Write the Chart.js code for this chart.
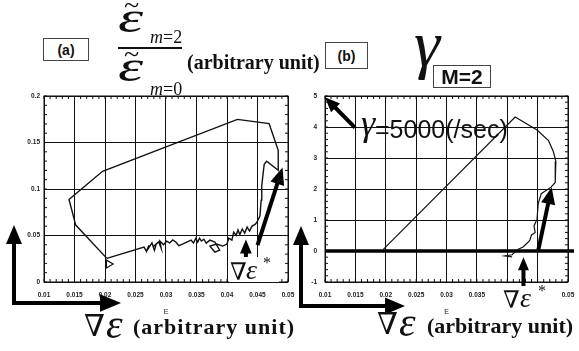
<!DOCTYPE html>
<html>
<head>
<meta charset="utf-8">
<script src="https://cdn.jsdelivr.net/npm/chart.js@4.4.1/dist/chart.umd.min.js"></script>
<style>
body{margin:0;background:#fff;width:579px;height:351px;overflow:hidden;position:relative;color:#111}
canvas{position:absolute;left:0;top:0}
.t{position:absolute;white-space:nowrap;line-height:1}
.sr{font-family:"Liberation Serif","Times New Roman",serif}
.ss{font-family:"Liberation Sans",Arial,sans-serif}
.dv{font-family:"DejaVu Serif",serif}
.i{font-style:italic}
.b{font-weight:bold}
.wide{transform:scaleX(1.45);transform-origin:left top}
.box{position:absolute;border:1px solid #444;display:flex;align-items:center;justify-content:center;font-weight:bold;line-height:1;background:#fff}
.bar{position:absolute;height:2px;background:#111}
.wb{position:absolute;background:#fff}
</style>
</head>
<body>
<canvas id="chart1" width="579" height="351"></canvas>
<canvas id="chart2" width="579" height="351"></canvas>

<!-- panel (a) titles -->
<div class="box ss" style="left:43px;top:38px;width:44px;height:21px;font-size:14px">(a)</div>
<div class="t sr" style="left:124px;top:-9px;font-size:28px">~</div>
<div class="t sr i wide" style="left:118px;top:-4px;font-size:44px">ε</div>
<div class="t sr" style="left:150px;top:28px;font-size:18px"><i>m</i>=2</div>
<div class="bar" style="left:118px;top:47px;width:64px"></div>
<div class="t sr" style="left:124px;top:40px;font-size:28px">~</div>
<div class="t sr i wide" style="left:118px;top:45px;font-size:44px">ε</div>
<div class="t sr" style="left:150px;top:80px;font-size:18px"><i>m</i>=0</div>
<div class="t sr b" style="left:187px;top:52px;font-size:20px">(arbitrary unit)</div>

<div class="wb" style="left:229px;top:257px;width:50px;height:25px"></div>
<div class="t dv" style="left:230px;top:260px;font-size:24px">∇</div>
<div class="t sr i" style="left:246px;top:256px;font-size:28px">ε</div>
<div class="t sr" style="left:263px;top:255px;font-size:16px">*</div>

<div class="t dv" style="left:84px;top:311px;font-size:30px">∇</div>
<div class="t sr i" style="left:106px;top:303px;font-size:42px">ε</div>
<div class="t sr b" style="left:133px;top:316px;font-size:22px;letter-spacing:1px">(arbitrary unit)</div>

<!-- panel (b) titles -->
<div class="box ss" style="left:325px;top:42px;width:41px;height:25px;font-size:14px">(b)</div>
<div class="t sr i" style="left:414px;top:11px;font-size:66px">γ</div>
<div class="box ss" style="left:433px;top:65px;width:56px;height:21px;font-size:21px">M=2</div>
<div class="t sr i" style="left:361px;top:105px;font-size:36px">γ</div>
<div class="t ss" style="left:375px;top:117px;font-size:25px">=5000(/sec)</div>

<div class="wb" style="left:500px;top:286px;width:48px;height:28px"></div>
<div class="t dv" style="left:503px;top:288px;font-size:24px">∇</div>
<div class="t sr i" style="left:520px;top:284px;font-size:28px">ε</div>
<div class="t sr" style="left:538px;top:283px;font-size:16px">*</div>

<div class="t dv" style="left:377px;top:309px;font-size:30px">∇</div>
<div class="t sr i" style="left:399px;top:301px;font-size:42px">ε</div>
<div class="t sr b" style="left:427px;top:315px;font-size:22px">(arbitrary unit)</div>

<script>
const gradTicks = [0.01, 0.015, 0.02, 0.025, 0.03, 0.035, 0.04, 0.045, 0.05]
const ratioTicks = [0, 0.05, 0.1, 0.15, 0.2]
const gammaTicks = [-1, 0, 1, 2, 3, 4, 5]

// (a) m=2 / m=0 amplitude ratio vs grad epsilon
const aGradE = [0.0203, 0.0264, 0.0268, 0.0272, 0.0270, 0.0277, 0.0281, 0.0284, 0.0279, 0.0288, 0.0292, 0.0290,
    0.0296, 0.0301, 0.0306, 0.0311, 0.0316, 0.0321, 0.0328, 0.0334, 0.0341, 0.0345, 0.0349, 0.0352, 0.0355,
    0.0358, 0.0362, 0.0366, 0.0372, 0.0380, 0.0388, 0.0380, 0.0372, 0.0383, 0.0393, 0.0400, 0.0403, 0.0408,
    0.0411, 0.0415, 0.0418, 0.0421, 0.0425, 0.0429, 0.0433, 0.0437, 0.0441, 0.0446, 0.0449, 0.0454, 0.0456,
    0.0457, 0.0461, 0.0465, 0.0484, 0.0484, 0.0469, 0.0417, 0.0196, 0.0141, 0.0152, 0.0203]
const aRatio = [0.0254, 0.0376, 0.0330, 0.0395, 0.0350, 0.0420, 0.0340, 0.0410, 0.0380, 0.0430, 0.0365, 0.0440,
    0.0400, 0.0440, 0.0420, 0.0452, 0.0430, 0.0390, 0.0410, 0.0430, 0.0451, 0.0420, 0.0470, 0.0430, 0.0472,
    0.0440, 0.0460, 0.0418, 0.0450, 0.0430, 0.0343, 0.0322, 0.0386, 0.0408, 0.0386, 0.0408, 0.0472, 0.0451,
    0.0537, 0.0500, 0.0560, 0.0510, 0.0570, 0.0526, 0.0590, 0.0547, 0.0601, 0.0620, 0.0644, 0.0708, 0.0880,
    0.1041, 0.1266, 0.1298, 0.1202, 0.1416, 0.1703, 0.1749, 0.1191, 0.0887, 0.0612, 0.0254]
const aStartE = [0.0206]
const aStartR = [0.0193]

// (b) gamma for M=2 vs grad epsilon
const bGradE = [0.0196, 0.0413, 0.0449, 0.0468, 0.0476, 0.0480, 0.0479, 0.0472, 0.0456, 0.0451, 0.0449,
    0.0444, 0.0446, 0.0440, 0.0437, 0.0432, 0.0426, 0.0418, 0.0408, 0.0396, 0.0408]
const bGamma = [0.05, 4.32, 3.90, 3.56, 3.20, 2.89, 2.21, 2.06, 1.85, 1.54, 1.02,
    0.81, 0.60, 0.52, 0.34, 0.24, 0.13, 0.06, -0.12, -0.16, -0.19]

const tickFont = {family: '"Liberation Sans", Arial, sans-serif', size: 6.5, weight: 'bold'}

function arrow(ctx, x1, y1, x2, y2, w, head){
    const a = Math.atan2(y2 - y1, x2 - x1)
    const c = Math.cos(a), s = Math.sin(a)
    ctx.save()
    ctx.strokeStyle = '#000'
    ctx.fillStyle = '#000'
    ctx.lineWidth = w
    ctx.beginPath()
    ctx.moveTo(x1, y1)
    ctx.lineTo(x2 - c * head * 0.8, y2 - s * head * 0.8)
    ctx.stroke()
    ctx.beginPath()
    ctx.moveTo(x2, y2)
    ctx.lineTo(x2 - head * c + head * 0.42 * s, y2 - head * s - head * 0.42 * c)
    ctx.lineTo(x2 - head * c - head * 0.42 * s, y2 - head * s + head * 0.42 * c)
    ctx.closePath()
    ctx.fill()
    ctx.restore()
}

// border + small dotted minor ticks along all four sides
function frame(chart, xStep, yStep){
    const {ctx, chartArea: ca, scales: {x, y}} = chart
    ctx.save()
    ctx.strokeStyle = '#111'
    ctx.lineWidth = 1
    ctx.strokeRect(ca.left, ca.top, ca.right - ca.left, ca.bottom - ca.top)
    ctx.beginPath()
    for (let v = x.min; v <= x.max + 1e-9; v += xStep){
        const px = x.getPixelForValue(v)
        ctx.moveTo(px, ca.bottom); ctx.lineTo(px, ca.bottom - 3)
        ctx.moveTo(px, ca.top); ctx.lineTo(px, ca.top + 3)
    }
    for (let v = y.min; v <= y.max + 1e-9; v += yStep){
        const py = y.getPixelForValue(v)
        ctx.moveTo(ca.left, py); ctx.lineTo(ca.left + 3, py)
        ctx.moveTo(ca.right, py); ctx.lineTo(ca.right - 3, py)
    }
    ctx.stroke()
    ctx.restore()
}

function scales(yTicks, yMin, yMax, yPad){
    return {
        x: {
            type: 'linear', min: 0.01, max: 0.05,
            afterBuildTicks: s => { s.ticks = gradTicks.map(v => ({value: v})) },
            afterFit: s => { s.height = 36; s.paddingLeft = 0; s.paddingRight = 0 },
            ticks: {font: tickFont, color: '#222', padding: 9, callback: v => String(v), maxRotation: 0, autoSkip: false},
            grid: {color: '#111', lineWidth: 1, drawTicks: false},
            border: {display: false},
            title: {display: true, text: 'E', font: {family: '"Liberation Sans", Arial, sans-serif', size: 7}, color: '#222', padding: {top: 4, bottom: 2}}
        },
        y: {
            type: 'linear', min: yMin, max: yMax,
            afterBuildTicks: s => { s.ticks = yTicks.map(v => ({value: v})) },
            afterFit: s => { s.width = 44; s.paddingTop = 0; s.paddingBottom = 0 },
            ticks: {font: tickFont, color: '#222', padding: yPad, callback: v => String(v), autoSkip: false},
            grid: {color: '#111', lineWidth: 1, drawTicks: false},
            border: {display: false}
        }
    }
}

function grafico1(){
    const data = {
        datasets: [{
            data: aGradE.map((v, i) => ({x: v, y: aRatio[i]})),
            showLine: true, borderColor: '#111', borderWidth: 1.4, pointRadius: 0, tension: 0
        }, {
            data: aStartE.map((v, i) => ({x: v, y: aStartR[i]})),
            pointStyle: 'triangle', rotation: 90, pointRadius: 4.5, borderWidth: 1.2,
            borderColor: '#111', backgroundColor: '#fff'
        }]
    }
    const deco = {
        id: 'decoA',
        afterDraw(chart){
            const {ctx, scales: {x, y}} = chart
            frame(chart, 0.001, 0.01)
            arrow(ctx, x.getPixelForValue(0.045), y.getPixelForValue(0.0397), x.getPixelForValue(0.0491), y.getPixelForValue(0.123), 4, 17)
            arrow(ctx, x.getPixelForValue(0.0431), y.getPixelForValue(0.004), x.getPixelForValue(0.0431), y.getPixelForValue(0.0458), 4, 14)
            // axis direction arrows at the lower left of the panel
            arrow(ctx, 14, 305, 14, 225, 4, 19)
            arrow(ctx, 12, 303, 121, 303, 4, 21)
        }
    }
    new Chart(document.getElementById('chart1'), {
        type: 'scatter', data,
        options: {
            responsive: false, animation: false,
            layout: {padding: {left: 0, top: 96, right: 291, bottom: 33}},
            plugins: {legend: {display: false}, tooltip: {enabled: false}},
            scales: scales(ratioTicks, 0, 0.2, 4)
        },
        plugins: [deco]
    })
}

function grafico2(){
    const data = {
        datasets: [{
            data: bGradE.map((v, i) => ({x: v, y: bGamma[i]})),
            showLine: true, borderColor: '#111', borderWidth: 1.2, pointRadius: 0, tension: 0
        }]
    }
    const deco = {
        id: 'decoB',
        afterDatasetsDraw(chart){
            const {ctx, chartArea: ca, scales: {y}} = chart
            ctx.save()
            ctx.strokeStyle = '#000'
            ctx.lineWidth = 3.5
            ctx.beginPath()
            ctx.moveTo(ca.left, y.getPixelForValue(0))
            ctx.lineTo(ca.right + 6, y.getPixelForValue(0))
            ctx.stroke()
            ctx.restore()
        },
        afterDraw(chart){
            const {ctx, scales: {x, y}} = chart
            frame(chart, 0.001, 0.2)
            arrow(ctx, x.getPixelForValue(0.01494), y.getPixelForValue(3.98), x.getPixelForValue(0.01), y.getPixelForValue(4.96), 4, 15)
            arrow(ctx, x.getPixelForValue(0.04511), y.getPixelForValue(0.03), x.getPixelForValue(0.04731), y.getPixelForValue(2.06), 4, 17)
            arrow(ctx, x.getPixelForValue(0.04267), y.getPixelForValue(-1.15), x.getPixelForValue(0.04267), y.getPixelForValue(-0.2), 4, 13)
            arrow(ctx, 301, 308, 301, 226, 4, 19)
            arrow(ctx, 299, 306, 405, 306, 4, 20)
        }
    }
    new Chart(document.getElementById('chart2'), {
        type: 'scatter', data,
        options: {
            responsive: false, animation: false,
            layout: {padding: {left: 281, top: 96, right: 11, bottom: 33}},
            plugins: {legend: {display: false}, tooltip: {enabled: false}},
            scales: scales(gammaTicks, -1, 5, 8)
        },
        plugins: [deco]
    })
}

grafico1()
grafico2()
</script>
</body>
</html>
